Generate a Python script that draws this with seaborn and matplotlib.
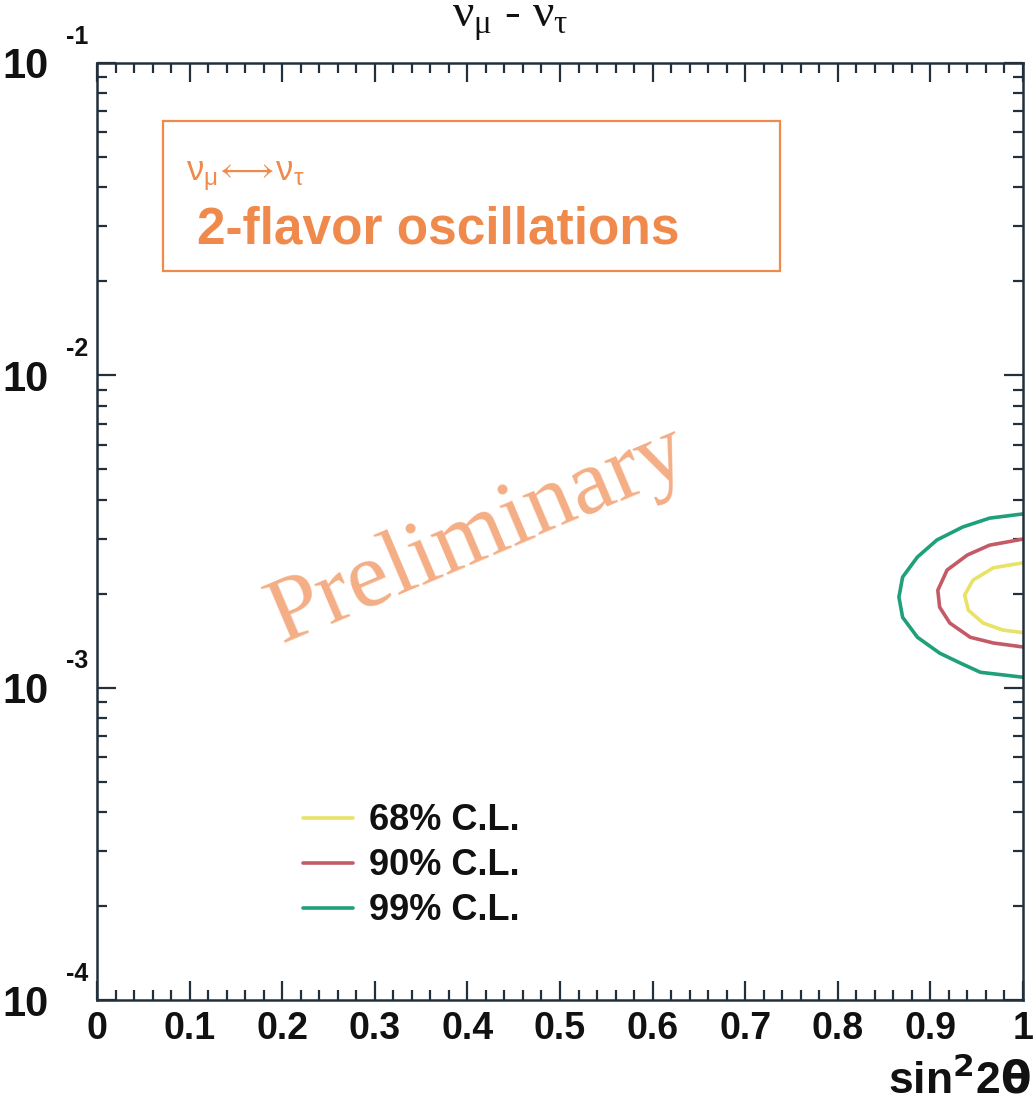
import numpy as np
import pandas as pd
import matplotlib
matplotlib.use("Agg")
import matplotlib.pyplot as plt
from matplotlib.patches import Rectangle
from matplotlib.ticker import FixedLocator, MultipleLocator, LogLocator, NullFormatter
import seaborn as sns

# ---- data ----
cl_labels = ["68% C.L.", "90% C.L.", "99% C.L."]
cl_colors = ["#e8e266", "#c45a66", "#1fa07a"]

x68 = [1.000, 0.968, 0.946, 0.937, 0.941, 0.957, 0.978, 1.000]
y68 = [2.51e-3, 2.42e-3, 2.21e-3, 1.98e-3, 1.77e-3, 1.61e-3, 1.53e-3, 1.50e-3]

x90 = [1.000, 0.964, 0.940, 0.918, 0.908, 0.910, 0.921, 0.943, 0.968, 1.000]
y90 = [2.99e-3, 2.86e-3, 2.66e-3, 2.38e-3, 2.05e-3, 1.81e-3, 1.61e-3, 1.45e-3, 1.39e-3, 1.35e-3]

x99 = [1.000, 0.964, 0.935, 0.907, 0.886, 0.870, 0.866, 0.870, 0.886, 0.910, 0.932, 0.954, 1.000]
y99 = [3.60e-3, 3.49e-3, 3.27e-3, 2.97e-3, 2.62e-3, 2.26e-3, 1.95e-3, 1.68e-3, 1.45e-3, 1.29e-3, 1.20e-3, 1.12e-3, 1.08e-3]

x_ticks = [0, 0.1, 0.2, 0.3, 0.4, 0.5, 0.6, 0.7, 0.8, 0.9, 1]
x_ticklabels = ["0", "0.1", "0.2", "0.3", "0.4", "0.5", "0.6", "0.7", "0.8", "0.9", "1"]
y_ticks = [1e-4, 1e-3, 1e-2, 1e-1]
y_exponents = ["-4", "-3", "-2", "-1"]

frames = []
for lab, xs, ys in zip(cl_labels, [x68, x90, x99], [y68, y90, y99]):
    frames.append(pd.DataFrame({"x": xs, "y": ys, "cl": lab, "order": range(len(xs))}))
df = pd.concat(frames, ignore_index=True)

# ---- style ----
sns.set_theme(style="ticks")
plt.rcParams["font.family"] = ["Liberation Sans", "DejaVu Sans"]
plt.rcParams["mathtext.fontset"] = "custom"
plt.rcParams["mathtext.rm"] = "Liberation Sans"
plt.rcParams["mathtext.it"] = "Liberation Sans:italic"
plt.rcParams["mathtext.bf"] = "Liberation Sans:bold"
plt.rcParams["mathtext.fallback"] = "stixsans"
axis_col = "#22303c"
orange = "#f08a4c"
txt_col = "#111111"

fig = plt.figure(figsize=(10.35, 11.07), dpi=100)
ax = fig.add_axes([97/1035, 1 - 1000/1107, (1023-97)/1035, (1000-63)/1107])

for lab, col in zip(cl_labels, cl_colors):
    sub = df[df["cl"] == lab]
    sns.lineplot(data=sub, x="x", y="y", sort=False, estimator=None, color=col,
                 linewidth=2.6, label=lab, ax=ax)

ax.set_xlim(0, 1)
ax.set_yscale("log")
ax.set_ylim(1e-4, 1e-1)

for s in ax.spines.values():
    s.set_color(axis_col)
    s.set_linewidth(1.8)

ax.xaxis.set_major_locator(FixedLocator(x_ticks))
ax.xaxis.set_minor_locator(MultipleLocator(0.02))
ax.set_xticklabels(x_ticklabels, fontsize=27, fontweight="bold", color=txt_col)
ax.yaxis.set_major_locator(FixedLocator(y_ticks))
ax.yaxis.set_minor_locator(LogLocator(base=10, subs=np.arange(2, 10)))
ax.yaxis.set_minor_formatter(NullFormatter())
ax.set_yticklabels(["10"] * len(y_ticks), fontsize=30, fontweight="bold", color=txt_col)

ax.tick_params(axis="both", which="both", direction="in", top=True, right=True,
               color=axis_col, width=1.6)
ax.tick_params(axis="x", which="major", length=14, pad=8)
ax.tick_params(axis="x", which="minor", length=7)
ax.tick_params(axis="y", which="major", length=14, pad=35)
ax.tick_params(axis="y", which="minor", length=7)

for yv, ex in zip(y_ticks, y_exponents):
    ax.annotate(ex, xy=(0, yv), xycoords=("axes fraction", "data"),
                xytext=(-22, 19), textcoords="offset points", ha="left", va="center",
                fontsize=18, fontweight="bold", color=txt_col, annotation_clip=False)

ax.set_xlabel("")
ax.set_ylabel("")
fig.text(1031/1035, 1 - 1080/1107, r"sin$^{\mathbf{2}}$2$\mathbf{\theta}$", ha="right", va="center",
         fontsize=32, fontweight="bold", color=txt_col, math_fontfamily="dejavusans")

# title
fig.text(510/1035, 1 - 22/1107, "\u03bd$_{\\mathregular{\u03bc}}$ - \u03bd$_{\\mathregular{\u03c4}}$",
         ha="center", va="center", fontsize=34, color=txt_col,
         family=["Liberation Serif", "DejaVu Serif"])

# info box
ax.add_patch(Rectangle((0.071, 0.778), 0.667, 0.160, transform=ax.transAxes,
                       fill=False, edgecolor=orange, linewidth=1.6))
ax.text(0.096, 0.879,
        r"$\mathrm{\nu}_{\mathrm{\mu}}\!\longleftrightarrow\!\mathrm{\nu}_{\mathrm{\tau}}$",
        transform=ax.transAxes, fontsize=25, color=orange, ha="left", va="center",
        fontweight="bold")
ax.text(0.108, 0.822, "2-flavor oscillations", transform=ax.transAxes,
        fontsize=37, fontweight="bold", color=orange, ha="left", va="center")

# watermark
ax.text(0.412, 0.496, "Preliminary", transform=ax.transAxes, rotation=23,
        fontsize=68, color="#f3a070", alpha=0.85, ha="center", va="center",
        family=["Liberation Serif"])

leg = ax.legend(loc="upper left", bbox_to_anchor=(0.222, 0.21), frameon=False,
                borderpad=0, borderaxespad=0,
                fontsize=26, handlelength=1.4, handletextpad=0.45, labelspacing=0.28)
for t in leg.get_texts():
    t.set_fontweight("bold")
    t.set_color(txt_col)

fig.savefig("out.png", dpi=100, facecolor="white")
